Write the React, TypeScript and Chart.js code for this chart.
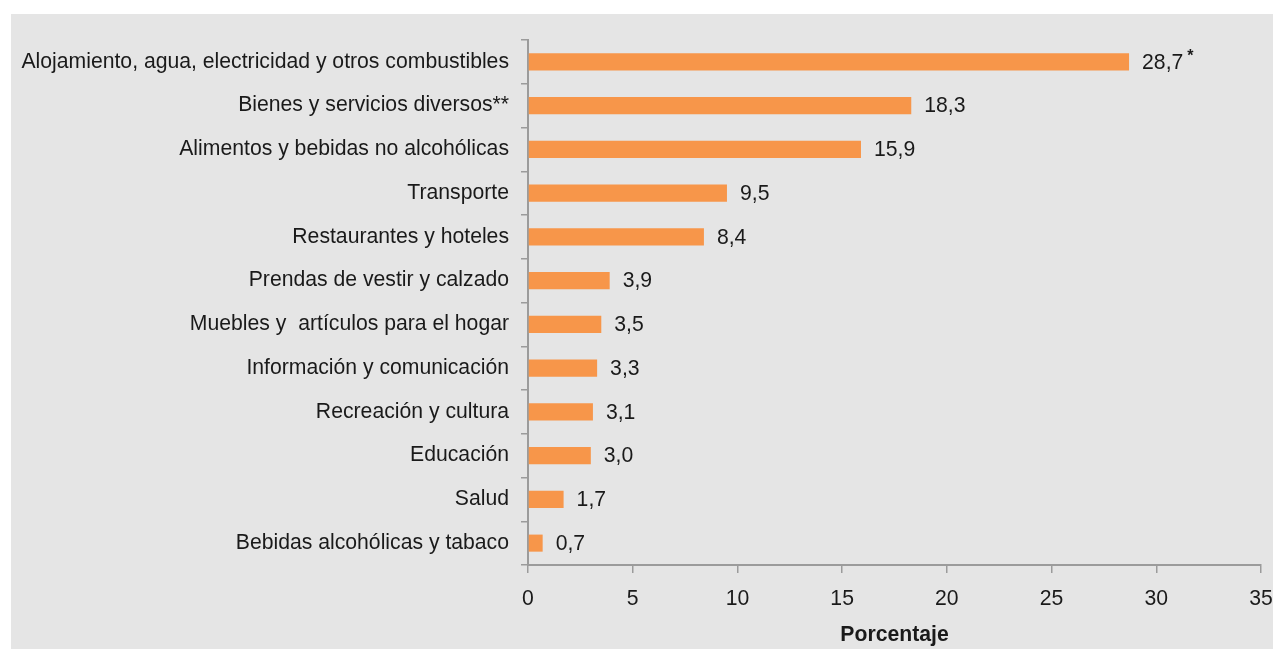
import React, { useEffect, useRef } from "react";
import { Chart, registerables } from "chart.js";

Chart.register(...registerables);

const categories = [
  "Alojamiento, agua, electricidad y otros combustibles",
  "Bienes y servicios diversos**",
  "Alimentos y bebidas no alcohólicas",
  "Transporte",
  "Restaurantes y hoteles",
  "Prendas de vestir y calzado",
  "Muebles y  artículos para el hogar",
  "Información y comunicación",
  "Recreación y cultura",
  "Educación",
  "Salud",
  "Bebidas alcohólicas y tabaco",
];
const values = [28.7, 18.3, 15.9, 9.5, 8.4, 3.9, 3.5, 3.3, 3.1, 3.0, 1.7, 0.7];
const valueNotes = ["*", "", "", "", "", "", "", "", "", "", "", ""];
const xTicks = [0, 5, 10, 15, 20, 25, 30, 35];
const axisTitle = "Porcentaje";

const FONT = "'Liberation Sans', Arial";
const SIZE = 21.2;
const TEXT = "#1a1a1a";
const AXIS = "#9b9b9b";
const BAR = "#f7964a";

const valueLabels = {
  id: "valueLabels",
  afterDatasetsDraw(chart: any) {
    const ctx = chart.ctx;
    const meta = chart.getDatasetMeta(0);
    ctx.save();
    ctx.fillStyle = TEXT;
    ctx.textBaseline = "middle";
    ctx.textAlign = "left";
    meta.data.forEach((bar: any, i: number) => {
      const txt = values[i].toFixed(1).replace(".", ",");
      const x = bar.x + 13;
      const y = bar.y + 1;
      ctx.font = `${SIZE}px ${FONT}`;
      ctx.fillText(txt, x, y);
      const note = valueNotes[i];
      if (note) {
        const w = ctx.measureText(txt).width;
        ctx.font = `bold 16px ${FONT}`;
        ctx.fillText(note, x + w + 4, y - 6);
      }
    });
    ctx.restore();
  },
};

export default function App() {
  const ref = useRef<HTMLCanvasElement | null>(null);
  useEffect(() => {
    if (!ref.current) return;
    const chart = new Chart(ref.current, {
      type: "bar",
      data: {
        labels: categories,
        datasets: [
          {
            data: values,
            backgroundColor: BAR,
            borderWidth: 0,
            barPercentage: 0.39,
            categoryPercentage: 1,
          },
        ],
      },
      options: {
        indexAxis: "y",
        responsive: false,
        animation: false,
        events: [],
        layout: { padding: { top: 26, right: 12, left: 0, bottom: 0 } },
        plugins: {
          legend: { display: false },
          tooltip: { enabled: false },
        },
        scales: {
          y: {
            grid: {
              display: true,
              drawOnChartArea: false,
              drawTicks: true,
              tickLength: 7,
              color: AXIS,
              lineWidth: 1.5,
            },
            border: { display: true, color: AXIS, width: 2 },
            ticks: {
              color: TEXT,
              font: { family: FONT, size: SIZE },
              padding: 12,
            },
            afterFit: (s: any) => {
              s.width = 517;
              s.paddingTop = 0;
              s.paddingBottom = 0;
            },
          },
          x: {
            type: "linear",
            min: xTicks[0],
            max: xTicks[xTicks.length - 1],
            afterBuildTicks: (s: any) => {
              s.ticks = xTicks.map((v) => ({ value: v }));
            },
            grid: {
              display: true,
              drawOnChartArea: false,
              drawTicks: true,
              tickLength: 8,
              color: AXIS,
              lineWidth: 1.5,
            },
            border: { display: true, color: AXIS, width: 2 },
            ticks: {
              color: TEXT,
              font: { family: FONT, size: SIZE },
              padding: 13,
              maxRotation: 0,
            },
            title: {
              display: true,
              text: axisTitle,
              color: TEXT,
              font: { family: FONT, size: SIZE, weight: "bold" },
              padding: { top: 0, bottom: 1 },
            },
            afterFit: (s: any) => {
              s.height = 84;
              s.paddingLeft = 0;
              s.paddingRight = 0;
            },
          },
        },
      },
      plugins: [valueLabels],
    } as any);
    return () => chart.destroy();
  }, []);

  return (
    <div
      style={{
        position: "absolute",
        left: 0,
        top: 0,
        width: 1273,
        height: 649,
        background: "#ffffff",
        overflow: "hidden",
      }}
    >
      <div
        style={{
          position: "absolute",
          left: 11,
          top: 14,
          width: 1262,
          height: 635,
          background: "#e5e5e5",
        }}
      >
        <canvas ref={ref} width={1262} height={635} style={{ display: "block" }} />
      </div>
    </div>
  );
}
